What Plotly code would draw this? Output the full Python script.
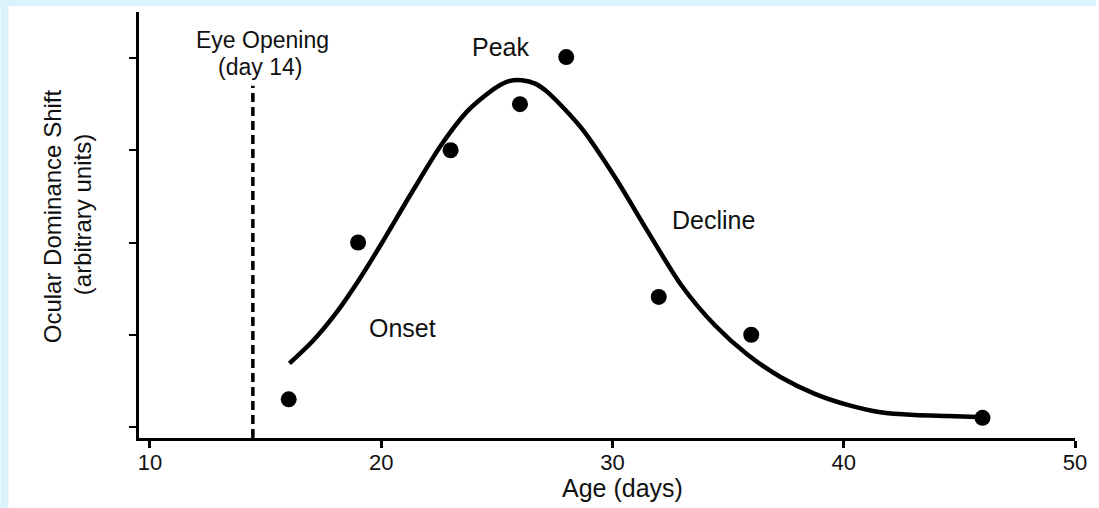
import plotly.graph_objects as go

# Measured ocular dominance shift by age
age_days = [16, 19, 23, 26, 28, 32, 36, 46]
od_shift = [0.30, 2.00, 3.00, 3.50, 4.01, 1.41, 1.00, 0.10]

# Fitted critical-period curve, sampled along its length
curve_age = [16.03, 17.03, 18.06, 19.05, 20.04, 21.34, 22.63, 23.79, 24.96, 25.52,
             26.08, 26.68, 27.24, 28.66, 30.13, 31.55, 32.97, 34.44, 35.86, 37.28,
             38.75, 40.17, 41.59, 43.06, 44.48, 45.78]
curve_shift = [0.69, 0.93, 1.24, 1.60, 2.00, 2.55, 3.07, 3.44, 3.68, 3.75,
               3.76, 3.72, 3.62, 3.24, 2.70, 2.11, 1.54, 1.10, 0.78, 0.54,
               0.36, 0.24, 0.16, 0.13, 0.12, 0.11]

x_ticks = [10, 20, 30, 40, 50]
y_ticks = [0, 1, 2, 3, 4]
eye_opening_day = 14.45

FONT = "Liberation Sans, Arial, sans-serif"
INK = "#111111"
W, H = 1099, 508
ML, MR, MT, MB = 139, 21, 12, 70
PW, PH = W - ML - MR, H - MT - MB


def px_to_paper(px, py):
    return (px - ML) / PW, (H - MB - py) / PH


fig = go.Figure()

fig.add_trace(go.Scatter(
    x=curve_age, y=curve_shift, mode="lines",
    line=dict(color="black", width=4.5, shape="spline", smoothing=0.8),
    hoverinfo="skip", showlegend=False,
))
fig.add_trace(go.Scatter(
    x=age_days, y=od_shift, mode="markers",
    marker=dict(color="black", size=16),
    showlegend=False,
))

# Eye-opening marker
fig.add_shape(type="line", xref="x", yref="y",
              x0=eye_opening_day, x1=eye_opening_day, y0=-0.119, y1=3.70,
              line=dict(color="black", width=3.5, dash="9px,5px"))

# Page frame: light-blue strips along the top and left edges
x0p, y0p = px_to_paper(0, 0)
x1p, y1p = px_to_paper(W, H)
xl, yt = px_to_paper(8, 6)
fig.add_shape(type="rect", xref="paper", yref="paper", layer="below",
              x0=x0p, x1=x1p, y0=yt, y1=y0p, fillcolor="#d8f3fc", line_width=0)
fig.add_shape(type="rect", xref="paper", yref="paper", layer="below",
              x0=x0p, x1=xl, y0=y1p, y1=y0p, fillcolor="#d8f3fc", line_width=0)


def label(text, px, py, size, angle=0):
    ax, ay = px_to_paper(px, py)
    fig.add_annotation(x=ax, y=ay, xref="paper", yref="paper", showarrow=False,
                       xanchor="center", yanchor="middle", text=text,
                       textangle=angle,
                       font=dict(family=FONT, size=size, color=INK))


label("Eye Opening", 263, 40, 23)
label("(day 14)", 260, 67, 23)
label("Peak", 502, 47, 25)
label("Onset", 403, 328, 25)
label("Decline", 715, 220, 25)
label("Ocular Dominance Shift", 52, 216, 24, -90)
label("(arbitrary units)", 82, 215, 24, -90)
label("Age (days)", 624, 488, 25)

fig.update_xaxes(
    range=[9.526, 50], tickvals=x_ticks, ticktext=[str(v) for v in x_ticks],
    showline=True, linecolor="black", linewidth=2.5, mirror=False,
    ticks="outside", ticklen=7, tickwidth=2.5, tickcolor="black",
    ticklabelstandoff=-4,
    tickfont=dict(family=FONT, size=22, color=INK),
    showgrid=False, zeroline=False,
)
fig.update_yaxes(
    range=[-0.119, 4.499], tickvals=y_ticks, showticklabels=False,
    showline=True, linecolor="black", linewidth=2.5,
    ticks="outside", ticklen=7, tickwidth=2, tickcolor="black",
    showgrid=False, zeroline=False,
)

fig.update_layout(
    width=W, height=H,
    margin=dict(l=ML, r=MR, t=MT, b=MB),
    paper_bgcolor="white", plot_bgcolor="white",
    showlegend=False,
)

fig.write_html("out.html")
